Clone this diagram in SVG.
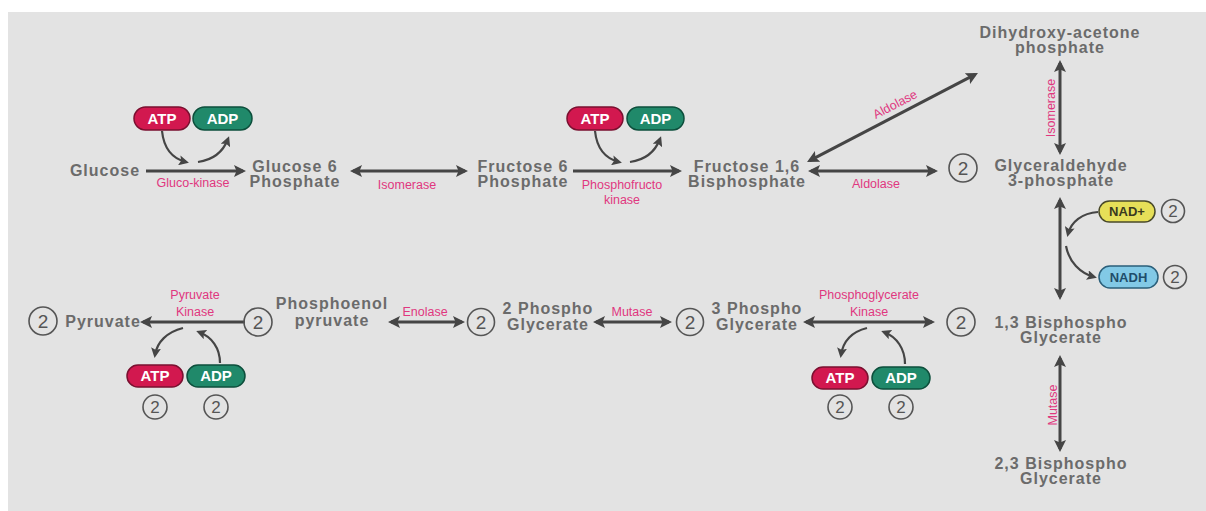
<svg xmlns="http://www.w3.org/2000/svg" width="1206" height="511" viewBox="0 0 1206 511">
  <defs>
    <style>
      .n { font-family: "Liberation Sans", Arial, sans-serif; font-weight: bold; font-size: 16px; fill: #6b6b6b; letter-spacing: 1px; text-anchor: middle; }
      .e { font-family: "Liberation Sans", Arial, sans-serif; font-size: 12.5px; fill: #e0377f; text-anchor: middle; }
      .pt { font-family: "Liberation Sans", Arial, sans-serif; font-weight: bold; font-size: 15px; fill: #ffffff; text-anchor: middle; }
      .pn { font-family: "Liberation Sans", Arial, sans-serif; font-weight: bold; font-size: 13px; text-anchor: middle; }
      .c { fill: none; stroke: #555555; stroke-width: 1.6; }
      .ct { font-family: "Liberation Sans", Arial, sans-serif; font-size: 19px; fill: #555555; text-anchor: middle; }
      .cts { font-family: "Liberation Sans", Arial, sans-serif; font-size: 17px; fill: #555555; text-anchor: middle; }
      .a { fill: none; stroke: #454545; stroke-width: 3; }
      .s { fill: none; stroke: #454545; stroke-width: 2.2; }
      .atp { fill: #d2184f; stroke: #7a1030; stroke-width: 1.5; }
      .adp { fill: #20896a; stroke: #0d4f3c; stroke-width: 1.5; }
    </style>
    <marker id="ah" viewBox="0 0 12 12" refX="9" refY="6" markerWidth="12" markerHeight="12" markerUnits="userSpaceOnUse" orient="auto-start-reverse">
      <path d="M0,0 L12,6 L0,12 L2.5,6 z" fill="#454545"/>
    </marker>
    <marker id="ahs" viewBox="0 0 10 10" refX="7" refY="5" markerWidth="10" markerHeight="10" markerUnits="userSpaceOnUse" orient="auto">
      <path d="M0,0 L10,5 L0,10 L2,5 z" fill="#454545"/>
    </marker>
  </defs>

  <!-- panel -->
  <rect x="0" y="0" width="1206" height="511" fill="#ffffff"/>
  <rect x="8" y="12" width="1198" height="499" fill="#e3e3e3"/>

  <!-- connectors -->
  <g id="connectors">
    <!-- top row -->
    <line class="a" x1="146" y1="171" x2="243" y2="171" marker-end="url(#ah)"/>
    <line class="a" x1="353" y1="171" x2="465" y2="171" marker-start="url(#ah)" marker-end="url(#ah)"/>
    <line class="a" x1="573" y1="171" x2="679" y2="171" marker-end="url(#ah)"/>
    <line class="a" x1="811" y1="171" x2="935" y2="171" marker-start="url(#ah)" marker-end="url(#ah)"/>
    <line class="a" x1="809.7" y1="160.6" x2="975.3" y2="74.4" marker-start="url(#ah)" marker-end="url(#ah)"/>
    <!-- right column -->
    <line class="a" x1="1060" y1="63" x2="1060" y2="152" marker-start="url(#ah)" marker-end="url(#ah)"/>
    <line class="a" x1="1060" y1="200" x2="1060" y2="297" marker-start="url(#ah)" marker-end="url(#ah)"/>
    <line class="a" x1="1060" y1="358" x2="1060" y2="449" marker-start="url(#ah)" marker-end="url(#ah)"/>
    <!-- bottom row -->
    <line class="a" x1="806" y1="322" x2="932" y2="322" marker-start="url(#ah)" marker-end="url(#ah)"/>
    <line class="a" x1="596" y1="322" x2="669" y2="322" marker-start="url(#ah)" marker-end="url(#ah)"/>
    <line class="a" x1="391" y1="322" x2="462" y2="322" marker-start="url(#ah)" marker-end="url(#ah)"/>
    <line class="a" x1="245" y1="322" x2="143" y2="322" marker-end="url(#ah)"/>

    <!-- cofactor curves -->
    <path class="s" d="M162,131 C164,150 174,159 186,162" marker-end="url(#ahs)"/>
    <path class="s" d="M198,162 C212,160 223,152 228,139" marker-end="url(#ahs)"/>
    <path class="s" d="M595,131 C597,150 607,159 619,162" marker-end="url(#ahs)"/>
    <path class="s" d="M630,162 C644,160 655,152 660,139" marker-end="url(#ahs)"/>
    <path class="s" d="M1098,212 C1082,213 1071,222 1068,234" marker-end="url(#ahs)"/>
    <path class="s" d="M1066,246 C1069,262 1080,273 1094,277" marker-end="url(#ahs)"/>
    <path class="s" d="M867,328 C851,332 843,342 841,355" marker-end="url(#ahs)"/>
    <path class="s" d="M905,364 C905,349 897,337 884,332" marker-end="url(#ahs)"/>
    <path class="s" d="M183,328 C167,332 157,342 155,355" marker-end="url(#ahs)"/>
    <path class="s" d="M220,363 C220,348 212,337 199,332" marker-end="url(#ahs)"/>
  </g>

  <!-- enzyme labels -->
  <g id="enzymes">
    <text class="e" x="193" y="187">Gluco-kinase</text>
    <text class="e" x="407" y="189">Isomerase</text>
    <text class="e" x="622" y="189">Phosphofructo</text>
    <text class="e" x="622" y="204">kinase</text>
    <text class="e" x="876" y="188">Aldolase</text>
    <text class="e" transform="translate(897,108) rotate(-27.5)">Aldolase</text>
    <text class="e" transform="translate(1055,108) rotate(-90)">Isomerase</text>
    <text class="e" transform="translate(1056.5,405) rotate(-90)">Mutase</text>
    <text class="e" x="869" y="299">Phosphoglycerate</text>
    <text class="e" x="869" y="316">Kinase</text>
    <text class="e" x="632" y="316">Mutase</text>
    <text class="e" x="425" y="316">Enolase</text>
    <text class="e" x="195" y="299">Pyruvate</text>
    <text class="e" x="195" y="316">Kinase</text>
  </g>

  <!-- metabolites -->
  <g id="glucose"><text class="n" x="105" y="176">Glucose</text></g>
  <g id="glucose-6-phosphate">
    <text class="n" x="295" y="172">Glucose 6</text>
    <text class="n" x="295" y="187">Phosphate</text>
  </g>
  <g id="fructose-6-phosphate">
    <text class="n" x="523" y="172">Fructose 6</text>
    <text class="n" x="523" y="187">Phosphate</text>
  </g>
  <g id="fructose-1-6-bisphosphate">
    <text class="n" x="747" y="172">Fructose 1,6</text>
    <text class="n" x="747" y="187">Bisphosphate</text>
  </g>
  <g id="dihydroxyacetone-phosphate">
    <text class="n" x="1060" y="38">Dihydroxy-acetone</text>
    <text class="n" x="1060" y="53">phosphate</text>
  </g>
  <g id="glyceraldehyde-3-phosphate">
    <circle class="c" cx="963" cy="168" r="14"/>
    <text class="ct" x="963" y="175">2</text>
    <text class="n" x="1061" y="171">Glyceraldehyde</text>
    <text class="n" x="1061" y="186">3-phosphate</text>
  </g>
  <g id="nad">
    <rect x="1099" y="201" width="56" height="21" rx="10.5" fill="#e6df58" stroke="#4a4a2a" stroke-width="1.5"/>
    <text class="pn" x="1127" y="216" fill="#3a3a20">NAD+</text>
    <circle class="c" cx="1173" cy="211" r="11.5"/>
    <text class="cts" x="1173" y="217">2</text>
  </g>
  <g id="nadh">
    <rect x="1099" y="266" width="59" height="22" rx="11" fill="#82c9e6" stroke="#2b5f7a" stroke-width="1.5"/>
    <text class="pn" x="1128.5" y="282" fill="#1f4d6a">NADH</text>
    <circle class="c" cx="1175" cy="277" r="11.5"/>
    <text class="cts" x="1175" y="283">2</text>
  </g>
  <g id="bisphosphoglycerate-1-3">
    <circle class="c" cx="961" cy="322" r="14"/>
    <text class="ct" x="961" y="329">2</text>
    <text class="n" x="1061" y="328">1,3 Bisphospho</text>
    <text class="n" x="1061" y="343">Glycerate</text>
  </g>
  <g id="bisphosphoglycerate-2-3">
    <text class="n" x="1061" y="469">2,3 Bisphospho</text>
    <text class="n" x="1061" y="484">Glycerate</text>
  </g>
  <g id="phosphoglycerate-3">
    <circle class="c" cx="690" cy="322" r="13.5"/>
    <text class="ct" x="690" y="329">2</text>
    <text class="n" x="757" y="314">3 Phospho</text>
    <text class="n" x="757" y="330">Glycerate</text>
  </g>
  <g id="phosphoglycerate-2">
    <circle class="c" cx="481" cy="322" r="13.5"/>
    <text class="ct" x="481" y="329">2</text>
    <text class="n" x="548" y="314">2 Phospho</text>
    <text class="n" x="548" y="330">Glycerate</text>
  </g>
  <g id="phosphoenolpyruvate">
    <circle class="c" cx="258" cy="322" r="14"/>
    <text class="ct" x="258" y="329">2</text>
    <text class="n" x="332" y="309">Phosphoenol</text>
    <text class="n" x="332" y="326">pyruvate</text>
  </g>
  <g id="pyruvate">
    <circle class="c" cx="43" cy="321" r="14"/>
    <text class="ct" x="43" y="328">2</text>
    <text class="n" x="103" y="327">Pyruvate</text>
  </g>

  <!-- energy carriers -->
  <g id="hexokinase-atp">
    <rect class="atp" x="134" y="107" width="56" height="23" rx="11.5"/>
    <text class="pt" x="162" y="124">ATP</text>
  </g>
  <g id="hexokinase-adp">
    <rect class="adp" x="193" y="107" width="59" height="23" rx="11.5"/>
    <text class="pt" x="222.5" y="124">ADP</text>
  </g>
  <g id="pfk-atp">
    <rect class="atp" x="567" y="107" width="56" height="23" rx="11.5"/>
    <text class="pt" x="595" y="124">ATP</text>
  </g>
  <g id="pfk-adp">
    <rect class="adp" x="627" y="107" width="57" height="23" rx="11.5"/>
    <text class="pt" x="655.5" y="124">ADP</text>
  </g>
  <g id="pgk-atp">
    <rect class="atp" x="812" y="367" width="56" height="22" rx="11"/>
    <text class="pt" x="840" y="383">ATP</text>
    <circle class="c" cx="840" cy="407" r="12"/>
    <text class="cts" x="840" y="413">2</text>
  </g>
  <g id="pgk-adp">
    <rect class="adp" x="872" y="367" width="58" height="22" rx="11"/>
    <text class="pt" x="901" y="383">ADP</text>
    <circle class="c" cx="901" cy="407" r="12"/>
    <text class="cts" x="901" y="413">2</text>
  </g>
  <g id="pk-atp">
    <rect class="atp" x="127" y="365" width="56" height="22" rx="11"/>
    <text class="pt" x="155" y="381">ATP</text>
    <circle class="c" cx="155" cy="407" r="12"/>
    <text class="cts" x="155" y="413">2</text>
  </g>
  <g id="pk-adp">
    <rect class="adp" x="187" y="365" width="58" height="22" rx="11"/>
    <text class="pt" x="216" y="381">ADP</text>
    <circle class="c" cx="216" cy="407" r="12"/>
    <text class="cts" x="216" y="413">2</text>
  </g>
</svg>
